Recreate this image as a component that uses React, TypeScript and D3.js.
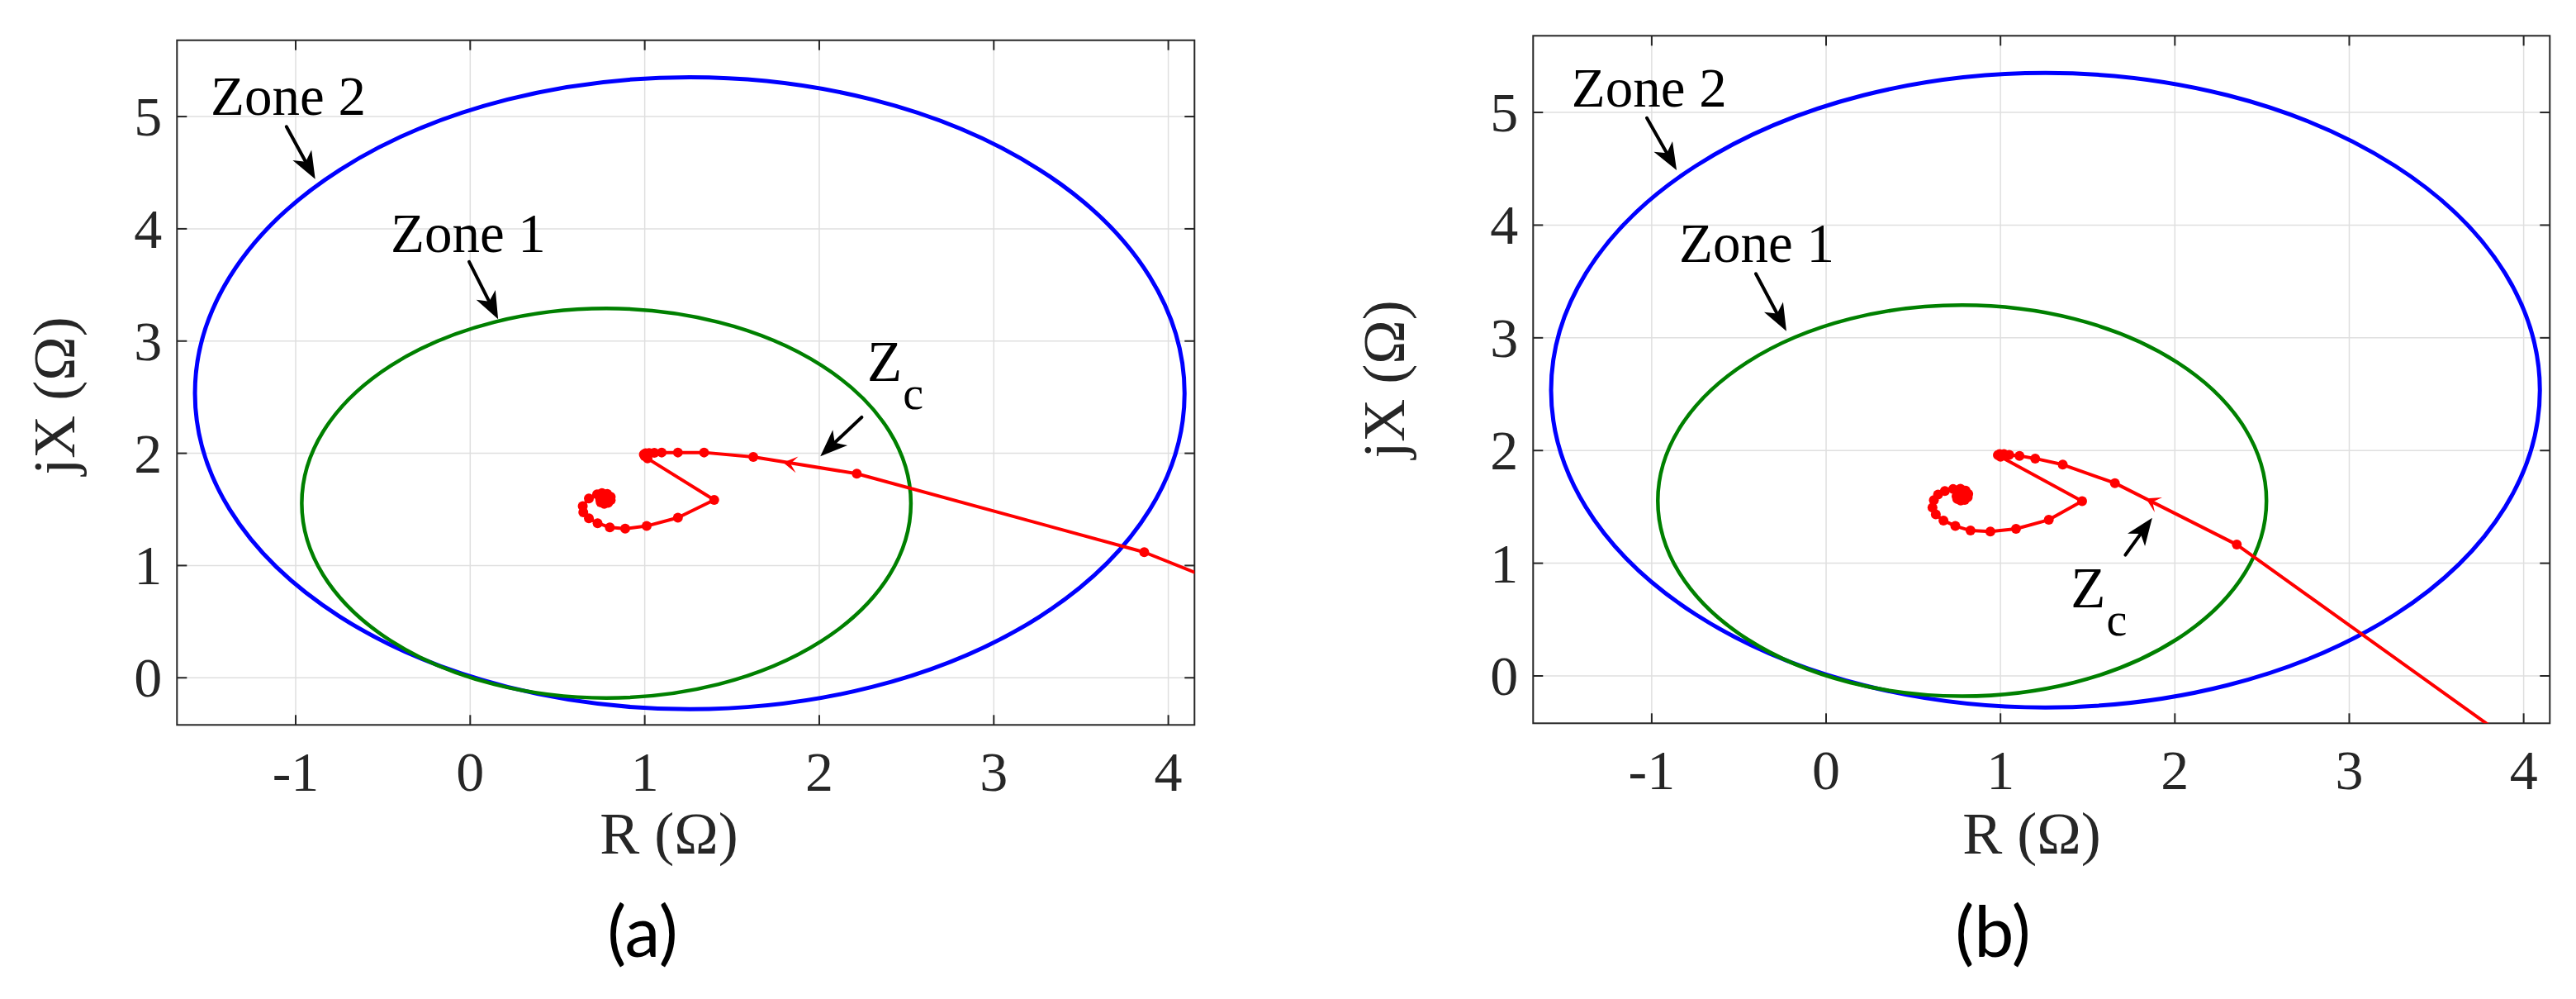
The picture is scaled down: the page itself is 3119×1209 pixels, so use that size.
import React from 'react';
import * as d3 from 'd3';

// ---------- data ----------
const xTicks = [-1, 0, 1, 2, 3, 4];
const yTicks = [0, 1, 2, 3, 4, 5];
const xDomain: [number, number] = [-1.68, 4.15];
const yDomain: [number, number] = [-0.42, 5.68];

// mho zones: centre (R, X) and semi-axes (R, X)
const zoneNames = ['Zone 2', 'Zone 1'];
const zoneCenterR = [1.258, 0.78];
const zoneCenterX = [2.535, 1.555];
const zoneRadiusR = [2.835, 1.745];
const zoneRadiusX = [2.815, 1.735];
const zoneColors = ['#0000ff', '#008000'];
const zoneWidths = [5, 4.5];

// apparent impedance trajectory, case (a)
const trajA_R = [4.6, 3.862, 2.215, 1.622, 1.34, 1.19, 1.097, 1.055, 1.025, 1.005, 0.995, 1.0, 1.016,
  1.398, 1.19, 1.011, 0.888, 0.8, 0.73, 0.68, 0.648, 0.645, 0.68, 0.727,
  0.755, 0.785, 0.805, 0.805, 0.79, 0.768, 0.748, 0.745, 0.757, 0.778, 0.79, 0.787, 0.77, 0.758, 0.764, 0.779, 0.78, 0.77, 0.768, 0.773];
const trajA_X = [0.66, 1.119, 1.818, 1.968, 2.007, 2.007, 2.007, 2.005, 2.003, 2.0, 1.99, 1.975, 1.954,
  1.585, 1.426, 1.352, 1.328, 1.34, 1.377, 1.421, 1.475, 1.529, 1.598, 1.635,
  1.645, 1.638, 1.612, 1.582, 1.558, 1.55, 1.562, 1.587, 1.607, 1.61, 1.593, 1.57, 1.563, 1.576, 1.592, 1.591, 1.576, 1.573, 1.583, 1.581];

// apparent impedance trajectory, case (b)
const trajB_R = [4.2, 2.355, 1.656, 1.357, 1.199, 1.109, 1.05, 1.02, 0.995, 0.985, 1.0,
  1.468, 1.277, 1.089, 0.942, 0.828, 0.741, 0.673, 0.629, 0.61, 0.618, 0.642, 0.681, 0.728,
  0.77, 0.8, 0.815, 0.812, 0.795, 0.772, 0.752, 0.748, 0.76, 0.782, 0.795, 0.792, 0.775, 0.763, 0.77, 0.785, 0.785, 0.775, 0.774, 0.778];
const trajB_X = [-0.88, 1.165, 1.711, 1.875, 1.929, 1.953, 1.962, 1.968, 1.968, 1.96, 1.945,
  1.55, 1.385, 1.305, 1.281, 1.29, 1.33, 1.379, 1.433, 1.494, 1.56, 1.609, 1.641, 1.658,
  1.66, 1.645, 1.615, 1.585, 1.562, 1.556, 1.57, 1.595, 1.615, 1.618, 1.6, 1.578, 1.57, 1.585, 1.6, 1.596, 1.582, 1.58, 1.59, 1.588];

// direction marker on trajectory: tip (R,X) and an upstream point (R,X)
const markerA = [1.793, 1.917, 2.215, 1.818];
const markerB = [1.834, 1.574, 2.355, 1.165];

// annotations: label, text R, text X, arrow tail R, X, arrow head R, X
const annotA_labels = ['Zone 2', 'Zone 1', 'Z'];
const annotA_text = [[-1.487, 5.013], [-0.456, 3.791], [2.275, 2.647]];
const annotA_arrow = [[-1.053, 4.91, -0.888, 4.443], [-0.006, 3.706, 0.16, 3.195], [2.243, 2.321, 2.006, 1.973]];
const annotB_labels = ['Zone 2', 'Zone 1', 'Z'];
const annotB_text = [[-1.46, 5.05], [-0.843, 3.673], [1.403, 0.609]];
const annotB_arrow = [[-1.028, 4.951, -0.857, 4.487], [-0.403, 3.569, -0.2275, 3.06], [1.716, 1.073, 1.87, 1.403]];

const panels = [
  { id: 'a', left: 214.3, right: 1446.3, top: 48.7, bottom: 877.3, R: trajA_R, X: trajA_X, marker: markerA,
    labels: annotA_labels, text: annotA_text, arrows: annotA_arrow,
    xlabX: 810, ylabX: 90, ylabY: 479, capX: 778 , cap: '(a)' },
  { id: 'b', left: 1856.3, right: 3087.3, top: 43.3, bottom: 875.3, R: trajB_R, X: trajB_X, marker: markerB,
    labels: annotB_labels, text: annotB_text, arrows: annotB_arrow,
    xlabX: 2460, ylabX: 1700, ylabY: 459, capX: 2413, cap: '(b)' },
];

const SERIF = '"Liberation Serif", "Times New Roman", serif';
const AXC = '#262626';

function arrowHead(tx: number, ty: number, fx: number, fy: number, L: number, w: number, n: number) {
  const dx = tx - fx, dy = ty - fy;
  const len = Math.hypot(dx, dy);
  const ux = dx / len, uy = dy / len;
  const vx = -uy, vy = ux;
  const bx = tx - L * ux, by = ty - L * uy;
  const nx = tx - n * ux, ny = ty - n * uy;
  return {
    d: `M${tx},${ty}L${bx + w * vx},${by + w * vy}L${nx},${ny}L${bx - w * vx},${by - w * vy}Z`,
    nx, ny,
  };
}

function Panel({ p }: { p: any }) {
  const x = d3.scaleLinear().domain(xDomain).range([p.left, p.right]);
  const y = d3.scaleLinear().domain(yDomain).range([p.bottom, p.top]);
  const pts: [number, number][] = p.R.map((r: number, i: number) => [r, p.X[i]]);
  const line = d3.line<[number, number]>().x(d => x(d[0])).y(d => y(d[1]));
  const clipId = `clip-${p.id}`;
  const tick = 12;
  const m = p.marker;
  const mk = arrowHead(x(m[0]), y(m[1]), x(m[2]), y(m[3]), 17, 10, 9);
  return (
    <g>
      <defs>
        <clipPath id={clipId}>
          <rect x={p.left} y={p.top} width={p.right - p.left} height={p.bottom - p.top} />
        </clipPath>
      </defs>
      {/* grid */}
      {xTicks.map(t => (
        <line key={'gx' + t} x1={x(t)} x2={x(t)} y1={p.top} y2={p.bottom} stroke="#dfdfdf" strokeWidth={1.5} />
      ))}
      {yTicks.map(t => (
        <line key={'gy' + t} y1={y(t)} y2={y(t)} x1={p.left} x2={p.right} stroke="#dfdfdf" strokeWidth={1.5} />
      ))}
      {/* ticks */}
      {xTicks.map(t => (
        <g key={'tx' + t}>
          <line x1={x(t)} x2={x(t)} y1={p.bottom} y2={p.bottom - tick} stroke={AXC} strokeWidth={2} />
          <line x1={x(t)} x2={x(t)} y1={p.top} y2={p.top + tick} stroke={AXC} strokeWidth={2} />
          <text x={x(t)} y={p.bottom + 80} textAnchor="middle" fontFamily={SERIF} fontSize={68} fill={AXC}>{String(t)}</text>
        </g>
      ))}
      {yTicks.map(t => (
        <g key={'ty' + t}>
          <line y1={y(t)} y2={y(t)} x1={p.left} x2={p.left + tick} stroke={AXC} strokeWidth={2} />
          <line y1={y(t)} y2={y(t)} x1={p.right} x2={p.right - tick} stroke={AXC} strokeWidth={2} />
          <text x={p.left - 18} y={y(t) + 23} textAnchor="end" fontFamily={SERIF} fontSize={68} fill={AXC}>{String(t)}</text>
        </g>
      ))}
      <rect x={p.left} y={p.top} width={p.right - p.left} height={p.bottom - p.top} fill="none" stroke={AXC} strokeWidth={2} />
      {/* zones */}
      {zoneNames.map((z, i) => (
        <ellipse key={z} cx={x(zoneCenterR[i])} cy={y(zoneCenterX[i])}
          rx={x(zoneRadiusR[i]) - x(0)} ry={y(0) - y(zoneRadiusX[i])}
          fill="none" stroke={zoneColors[i]} strokeWidth={zoneWidths[i]} />
      ))}
      {/* trajectory */}
      <g clipPath={`url(#${clipId})`}>
        <path d={line(pts) || ''} fill="none" stroke="#ff0000" strokeWidth={4} strokeLinejoin="round" />
        {pts.map((d, i) => (
          <circle key={i} cx={x(d[0])} cy={y(d[1])} r={6} fill="#ff0000" />
        ))}
        <path d={mk.d} fill="#ff0000" />
      </g>
      {/* annotations */}
      {p.labels.map((lab: string, i: number) => {
        const a = p.arrows[i];
        const hx = x(a[2]), hy = y(a[3]);
        const h = arrowHead(hx, hy, x(a[0]), y(a[1]), 33, 13, 24);
        const tx = x(p.text[i][0]), ty = y(p.text[i][1]);
        return (
          <g key={lab + i}>
            {lab === 'Z' ? (
              <text x={tx} y={ty} fontFamily={SERIF} fontSize={69} fill="#000">
                Z<tspan dx={1} dy={34} fontSize={56}>c</tspan>
              </text>
            ) : (
              <text x={tx} y={ty} fontFamily={SERIF} fontSize={67} fill="#000">{lab}</text>
            )}
            <line x1={x(a[0])} y1={y(a[1])} x2={h.nx} y2={h.ny} stroke="#000" strokeWidth={4} strokeLinecap="round" />
            <path d={h.d} fill="#000" />
          </g>
        );
      })}
      {/* axis labels */}
      <text x={p.xlabX} y={1033} textAnchor="middle" fontFamily={SERIF} fontSize={72} fill={AXC}>R (Ω)</text>
      <text transform={`translate(${p.ylabX},${p.ylabY}) rotate(-90)`} textAnchor="middle" fontFamily={SERIF} fontSize={72} fill={AXC}>jX (Ω)</text>
      <text x={p.capX} y={1158} textAnchor="middle" fontFamily='Lato, "Open Sans", sans-serif' fontSize={86} fill="#000">{p.cap}</text>
    </g>
  );
}

export default function App() {
  return (
    <svg width={3119} height={1209} viewBox="0 0 3119 1209"
      style={{ position: 'absolute', left: 0, top: 0, display: 'block', background: '#fff' }}>
      <rect x={0} y={0} width={3119} height={1209} fill="#fff" />
      {panels.map(p => <Panel key={p.id} p={p} />)}
    </svg>
  );
}
